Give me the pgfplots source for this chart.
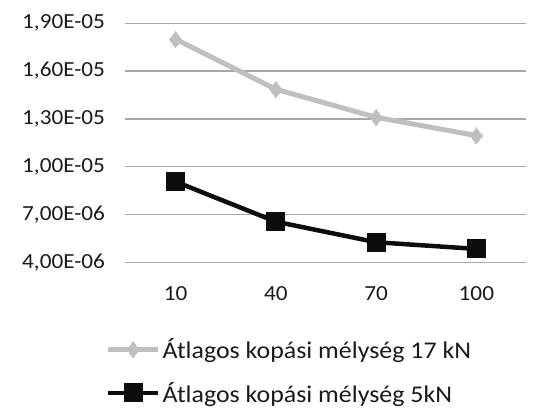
\documentclass[border=0pt]{standalone}
\usepackage{pgfplots}
\pgfplotsset{compat=1.18}
\usepackage{fontspec}
\setmainfont{Carlito}[FakeStretch=1.08]
\definecolor{gridc}{HTML}{A6A6A6}
\definecolor{sgray}{HTML}{BFBFBF}
\definecolor{sblack}{HTML}{0D0D0D}
\definecolor{txt}{HTML}{1A1A1A}
\begin{document}
\begin{tikzpicture}
\begin{axis}[
  at={(125.5pt,-23.3pt)}, anchor=north west,
  scale only axis, width=401pt, height=239pt,
  xmin=-0.5, xmax=3.5, ymin=4e-6, ymax=1.9e-5,
  axis line style={draw=none},
  xtick={0,1,2,3}, xticklabels={10,40,70,100},
  ytick={4e-6,7e-6,1e-5,1.3e-5,1.6e-5,1.9e-5},
  yticklabels={{4,00E-06},{7,00E-06},{1,00E-05},{1,30E-05},{1,60E-05},{1,90E-05}},
  scaled y ticks=false,
  ymajorgrids, grid style={gridc, line width=1.4pt},
  major tick length=0pt,
  tick label style={font=\fontsize{21.5}{26}\selectfont, text=txt},
  yticklabel style={xshift=-17pt},
  xticklabel style={yshift=-21pt},
  legend style={at={(axis description cs:-0.05,-0.31)}, anchor=north west,
    draw=none, fill=none, font=\fontsize{24}{28}\selectfont, text=txt,
    row sep=18pt, inner sep=0pt, legend cell align=left},
  legend image code/.code={\draw[#1, mark repeat=2, mark phase=2] plot coordinates {(0pt,0pt) (25pt,0pt) (50pt,0pt)};},
]
\addplot[sgray, line width=5pt, mark=diamond*, mark size=8pt, mark options={line width=0pt, fill=sgray}]
  coordinates {(0,1.80e-5) (1,1.486e-5) (2,1.31e-5) (3,1.195e-5)};
\addlegendentry{Átlagos kopási mélység 17 kN}
\addplot[sblack, line width=4.5pt, mark=square*, mark size=9pt, mark options={line width=0pt, fill=sblack}]
  coordinates {(0,9.06e-6) (1,6.55e-6) (2,5.26e-6) (3,4.84e-6)};
\addlegendentry{Átlagos kopási mélység 5kN}
\end{axis}
\pgfresetboundingbox
\useasboundingbox (0,0) rectangle (541pt,-410pt);
\end{tikzpicture}
\end{document}
